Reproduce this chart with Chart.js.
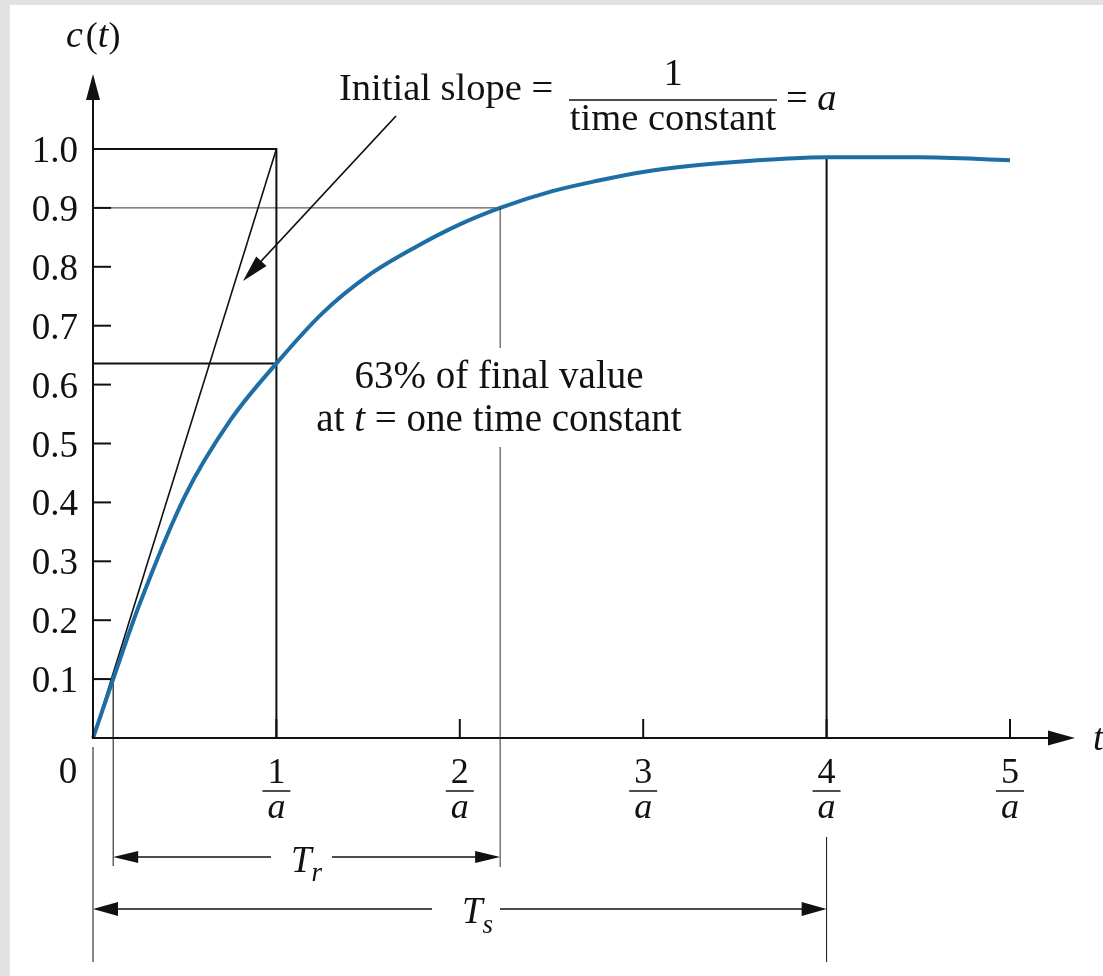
<!DOCTYPE html>
<html><head><meta charset="utf-8">
<script src="https://cdn.jsdelivr.net/npm/chart.js@4"></script>
<style>html,body{margin:0;padding:0;background:#fff;overflow:hidden}</style>
</head><body>
<canvas id="c" width="1103" height="976"></canvas>
<script>
// ---- data ----
const tValues = [0, 0.11, 0.25, 0.5, 0.75, 1.0, 1.25, 1.5, 1.75, 2.0, 2.22, 2.5, 2.75, 3.0, 3.25, 3.5, 3.75, 4.0, 4.5, 5.0];
const cValues = [0, 0.10, 0.224, 0.41, 0.54, 0.636, 0.721, 0.785, 0.832, 0.872, 0.900, 0.928, 0.946, 0.961, 0.971, 0.978, 0.983, 0.986, 0.986, 0.981];
const yTickValues = [0.1, 0.2, 0.3, 0.4, 0.5, 0.6, 0.7, 0.8, 0.9, 1.0];
const yTickLabels = ['0.1', '0.2', '0.3', '0.4', '0.5', '0.6', '0.7', '0.8', '0.9', '1.0'];
const xTickValues = [1, 2, 3, 4, 5];
const xTickNumerators = ['1', '2', '3', '4', '5'];
const xTickDenominator = 'a';
const timeConstant = 1;          // t = 1/a
const valueAtTau = 0.636;        // 63 % of final value
const riseLow = 0.1, riseHigh = 0.9;
const tRiseStart = 0.11, tRiseEnd = 2.22;
const tSettle = 4, cSettle = 0.986;
const finalValue = 1.0;

const SERIF = '"Liberation Serif", "Times New Roman", serif';
const INK = '#111';
const BLUE = '#1c6ea4';

function pts(xs, ys) { return xs.map((x, i) => ({x: x, y: ys[i]})); }

function drawRuns(ctx, parts, x, y, align) {
  let total = 0;
  parts.forEach(p => { ctx.font = p[1]; total += ctx.measureText(p[0]).width + (p[3] || 0); });
  let cx = align === 'center' ? x - total / 2 : (align === 'right' ? x - total : x);
  ctx.textAlign = 'left';
  ctx.textBaseline = 'alphabetic';
  parts.forEach(p => {
    ctx.font = p[1];
    ctx.fillText(p[0], cx, p[2] !== undefined && p[2] !== null ? p[2] : y);
    cx += ctx.measureText(p[0]).width + (p[3] || 0);
  });
}
function line(ctx, x1, y1, x2, y2, w) {
  ctx.lineWidth = w; ctx.beginPath(); ctx.moveTo(x1, y1); ctx.lineTo(x2, y2); ctx.stroke();
}
function arrowHead(ctx, tipX, tipY, fromX, fromY, len, half) {
  const a = Math.atan2(tipY - fromY, tipX - fromX);
  const bx = tipX - len * Math.cos(a), by = tipY - len * Math.sin(a);
  ctx.beginPath();
  ctx.moveTo(tipX, tipY);
  ctx.lineTo(bx + half * Math.sin(a), by - half * Math.cos(a));
  ctx.lineTo(bx - half * Math.sin(a), by + half * Math.cos(a));
  ctx.closePath(); ctx.fill();
}

const bgPlugin = {
  id: 'bg',
  beforeDraw(chart) {
    const ctx = chart.ctx;
    ctx.save();
    ctx.fillStyle = '#e2e2e4';
    ctx.fillRect(0, 0, chart.width, chart.height);
    ctx.fillStyle = '#ffffff';
    ctx.fillRect(10, 5, chart.width - 10, chart.height - 5);
    ctx.restore();
  }
};

const decoPlugin = {
  id: 'deco',
  afterDatasetsDraw(chart) {
    const ctx = chart.ctx, xs = chart.scales.x, ys = chart.scales.y;
    const X = v => xs.getPixelForValue(v), Y = v => ys.getPixelForValue(v);
    const x0 = X(0), y0 = Y(0);
    ctx.save();
    ctx.strokeStyle = INK; ctx.fillStyle = INK; ctx.lineCap = 'butt';

    // axes with arrows
    line(ctx, x0, y0 + 1, x0, 95, 2);
    arrowHead(ctx, x0, 74, x0, 200, 26, 7);
    line(ctx, x0 - 1, y0, 1052, y0, 2);
    arrowHead(ctx, 1075, y0, 900, y0, 27, 7.5);

    // y ticks + labels
    yTickValues.forEach((v, i) => {
      const yy = Y(v);
      line(ctx, x0, yy, x0 + 18, yy, 2);
      ctx.font = '37px ' + SERIF; ctx.textAlign = 'right'; ctx.textBaseline = 'alphabetic';
      ctx.fillText(yTickLabels[i], 78, yy + 13);
    });
    ctx.font = '37px ' + SERIF; ctx.textAlign = 'center';
    ctx.fillText('0', 68, 783);

    // x ticks + fraction labels
    xTickValues.forEach((v, i) => {
      const xx = X(v);
      line(ctx, xx, y0, xx, y0 - 19, 2);
      ctx.font = '36px ' + SERIF; ctx.textAlign = 'center'; ctx.textBaseline = 'alphabetic';
      ctx.fillText(xTickNumerators[i], xx, 783);
      line(ctx, xx - 14, 791, xx + 14, 791, 1.5);
      ctx.font = 'italic 36px ' + SERIF;
      ctx.fillText(xTickDenominator, xx, 818);
    });

    // axis titles
    drawRuns(ctx, [['c', 'italic 38px ' + SERIF, null, 3], ['(', '36px ' + SERIF], ['t', 'italic 38px ' + SERIF], [')', '36px ' + SERIF]], 66, 47, 'left');
    drawRuns(ctx, [['t', 'italic 38px ' + SERIF]], 1093, 750, 'left');

    // 0.9 / rise-end vertical with gap for text
    ctx.strokeStyle = '#333';
    line(ctx, X(tRiseEnd), Y(riseHigh), X(tRiseEnd), 348, 1);
    line(ctx, X(tRiseEnd), 447, X(tRiseEnd), 867, 1);
    ctx.strokeStyle = INK;
    // extension lines below axis
    line(ctx, X(tRiseStart), y0, X(tRiseStart), 866, 1);
    line(ctx, x0, 747, x0, 962, 1);
    line(ctx, X(tSettle), 837, X(tSettle), 962, 1);

    // Tr dimension
    const yTr = 857;
    line(ctx, X(tRiseStart) + 10, yTr, 271, yTr, 1.5);
    line(ctx, 332, yTr, X(tRiseEnd) - 10, yTr, 1.5);
    arrowHead(ctx, X(tRiseStart), yTr, 300, yTr, 25, 6);
    arrowHead(ctx, X(tRiseEnd), yTr, 300, yTr, 25, 6);
    drawRuns(ctx, [['T', 'italic 37px ' + SERIF, 872], ['r', 'italic 27px ' + SERIF, 881]], 291, 872, 'left');

    // Ts dimension
    const yTs = 909;
    line(ctx, x0 + 10, yTs, 432, yTs, 1.5);
    line(ctx, 500, yTs, X(tSettle) - 10, yTs, 1.5);
    arrowHead(ctx, x0, yTs, 400, yTs, 25, 7);
    arrowHead(ctx, X(tSettle), yTs, 400, yTs, 25, 7);
    drawRuns(ctx, [['T', 'italic 37px ' + SERIF, 923], ['s', 'italic 27px ' + SERIF, 933]], 462, 923, 'left');

    // initial slope annotation
    ctx.fillStyle = INK;
    ctx.font = '38.5px ' + SERIF; ctx.textAlign = 'left'; ctx.textBaseline = 'alphabetic';
    ctx.fillText('Initial slope =', 339, 100);
    line(ctx, 569, 100, 777, 100, 1.5);
    ctx.textAlign = 'center';
    ctx.fillText('1', 673, 85);
    ctx.fillText('time constant', 673, 130);
    drawRuns(ctx, [['= ', '38.5px ' + SERIF], ['a', 'italic 38.5px ' + SERIF]], 786, 110, 'left');
    line(ctx, 396, 116, 252, 271, 1.8);
    arrowHead(ctx, 243, 281, 396, 116, 27, 7);

    // 63% annotation
    ctx.font = '39px ' + SERIF; ctx.textAlign = 'center';
    ctx.fillText('63% of final value', 499, 388);
    drawRuns(ctx, [['at ', '39px ' + SERIF], ['t', 'italic 39px ' + SERIF], [' = one time constant', '39px ' + SERIF]], 499, 431, 'center');

    ctx.restore();
  }
};

const common = {pointRadius: 0, fill: false, clip: false, borderCapStyle: 'butt'};
new Chart(document.getElementById('c'), {
  type: 'line',
  data: {
    datasets: [
      Object.assign({data: pts(tValues, cValues), borderColor: BLUE, borderWidth: 4, cubicInterpolationMode: 'monotone'}, common),
      Object.assign({data: pts([0, timeConstant], [0, finalValue]), borderColor: INK, borderWidth: 1.6}, common),
      Object.assign({data: pts([0, timeConstant, timeConstant], [finalValue, finalValue, 0]), borderColor: INK, borderWidth: 2}, common),
      Object.assign({data: pts([0, timeConstant], [valueAtTau, valueAtTau]), borderColor: INK, borderWidth: 2}, common),
      Object.assign({data: pts([0, tRiseEnd], [riseHigh, riseHigh]), borderColor: '#333', borderWidth: 1}, common),
      Object.assign({data: pts([0, tRiseStart, tRiseStart], [riseLow, riseLow, 0]), borderColor: INK, borderWidth: 1.2}, common),
      Object.assign({data: pts([tSettle, tSettle], [cSettle, 0]), borderColor: INK, borderWidth: 2}, common)
    ]
  },
  options: {
    responsive: false, animation: false, events: [],
    layout: {padding: {left: 93, right: 93, top: 149, bottom: 238}},
    scales: {
      x: {type: 'linear', min: 0, max: 5, display: false},
      y: {type: 'linear', min: 0, max: 1, display: false}
    },
    plugins: {legend: {display: false}, tooltip: {enabled: false}}
  },
  plugins: [bgPlugin, decoPlugin]
});
</script>
</body></html>
